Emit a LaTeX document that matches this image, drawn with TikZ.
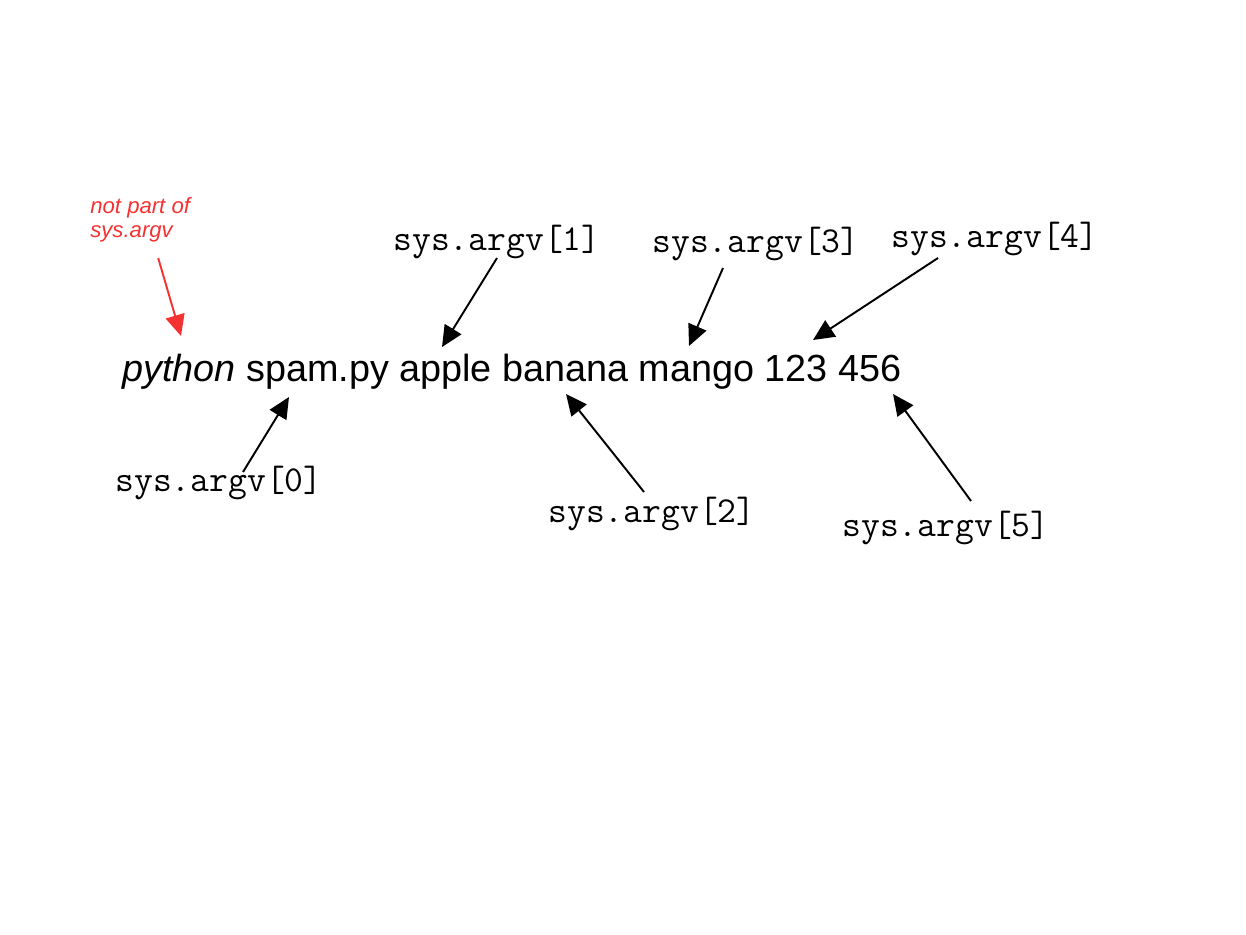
\documentclass[tikz,border=0pt]{standalone}
\usepackage{fontspec}
\setmainfont{Liberation Sans}
\usepackage{tikz}
\usetikzlibrary{arrows.meta}
\definecolor{notered}{RGB}{245,50,50}

\begin{document}
\begin{tikzpicture}[
            x=0.02cm, y=-0.02cm,
            argv/.style={font=\fontsize{20.8pt}{23pt}\selectfont\ttfamily, inner sep=0pt},
            pointer/.style={->, line width=1.1pt},
            >={Triangle[length=12pt,width=11pt]}
        ]
            \useasboundingbox (0,0) rectangle (1246,934);

            % The command line
            \node[anchor=base west, inner sep=0pt, font=\fontsize{21.5pt}{24pt}\selectfont] (cmd) at (122,381)
                {\textit{python} spam.py apple banana mango 123 456};

            % Note in red
            \node[anchor=west, align=left, inner sep=0pt, text=notered,
                  font=\fontsize{12.6pt}{13.8pt}\selectfont\itshape] (note) at (90,220) {not part of\\sys.argv};

            % Labels (indices)
            \node[argv] (a0) at (219,483) {sys.argv[0]};
            \node[argv] (a1) at (497,242) {sys.argv[1]};
            \node[argv] (a2) at (652,514) {sys.argv[2]};
            \node[argv] (a3) at (756,244) {sys.argv[3]};
            \node[argv] (a4) at (995,239) {sys.argv[4]};
            \node[argv] (a5) at (946,528) {sys.argv[5]};

            % Arrow tips
            \coordinate (tn) at (181,336);
            \coordinate (t0) at (289,397);
            \coordinate (t1) at (442,347);
            \coordinate (t2) at (566,394);
            \coordinate (t3) at (689,346);
            \coordinate (t4) at (813,340);
            \coordinate (t5) at (893,394);

            % Arrows
            \draw[pointer, notered] ([shift={(18,38)}]note.center) -- (tn);
            \draw[pointer] ([shift={(24,-11)}]a0.center) -- (t0);
            \draw[pointer] ([shift={(0,16)}]a1.center) -- (t1);
            \draw[pointer] ([shift={(-8,-22)}]a2.center) -- (t2);
            \draw[pointer] ([shift={(-33,24)}]a3.center) -- (t3);
            \draw[pointer] ([shift={(-57,19)}]a4.center) -- (t4);
            \draw[pointer] ([shift={(25,-27)}]a5.center) -- (t5);
        \end{tikzpicture}
\end{document}
